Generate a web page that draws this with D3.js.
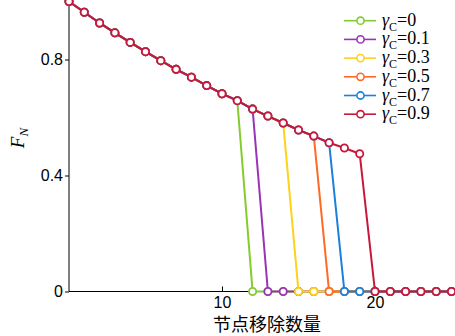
<!DOCTYPE html>
<html>
<head>
  <meta charset="utf-8">
  <script src="https://d3js.org/d3.v7.min.js"></script>
  <style>
    body { margin: 0; background: #fff; }
    svg { display: block; font-family: "Liberation Serif", "DejaVu Serif", serif; }
    .tick text { font-size: 16px; fill: #000; }
  </style>
</head>
<body>
  <svg id="chart" width="455" height="336"></svg>

  <script>
    // removed-node count on x, F_N on y
    const steps = d3.range(0, 26);
    const xTicks = [10, 20];
    const yTicks = [0, 0.4, 0.8];
    const gammaLabels = ["0", "0.1", "0.3", "0.5", "0.7", "0.9"];
    const colors = ["#84cc2e", "#9a34b5", "#ffd21a", "#ff6a26", "#1a80db", "#c8173d"];

    const fnG0  = [1, 0.963, 0.926, 0.892, 0.859, 0.827, 0.796, 0.766, 0.739, 0.710, 0.682, 0.658, 0, 0, 0, 0, 0, 0, 0, 0, 0, 0, 0, 0, 0, 0];
    const fnG01 = [1, 0.963, 0.926, 0.892, 0.859, 0.827, 0.796, 0.766, 0.739, 0.710, 0.682, 0.658, 0.629, 0, 0, 0, 0, 0, 0, 0, 0, 0, 0, 0, 0, 0];
    const fnG03 = [1, 0.963, 0.926, 0.892, 0.859, 0.827, 0.796, 0.766, 0.739, 0.710, 0.682, 0.658, 0.629, 0.605, 0.581, 0, 0, 0, 0, 0, 0, 0, 0, 0, 0, 0];
    const fnG05 = [1, 0.963, 0.926, 0.892, 0.859, 0.827, 0.796, 0.766, 0.739, 0.710, 0.682, 0.658, 0.629, 0.605, 0.581, 0.557, 0.536, 0, 0, 0, 0, 0, 0, 0, 0, 0];
    const fnG07 = [1, 0.963, 0.926, 0.892, 0.859, 0.827, 0.796, 0.766, 0.739, 0.710, 0.682, 0.658, 0.629, 0.605, 0.581, 0.557, 0.536, 0.513, 0, 0, 0, 0, 0, 0, 0, 0];
    const fnG09 = [1, 0.963, 0.926, 0.892, 0.859, 0.827, 0.796, 0.766, 0.739, 0.710, 0.682, 0.658, 0.629, 0.605, 0.581, 0.557, 0.536, 0.513, 0.495, 0.475, 0, 0, 0, 0, 0, 0];
    const allSeries = [fnG0, fnG01, fnG03, fnG05, fnG07, fnG09];

    const svg = d3.select("#chart");

    const x = d3.scaleLinear().domain([0, 25]).range([69, 451.5]);
    const y = d3.scaleLinear().domain([0, 1]).range([291.5, 1.5]);

    // axes
    svg.append("g")
      .attr("transform", `translate(0,${y(0)})`)
      .call(d3.axisBottom(x).tickValues(xTicks).tickSize(-5).tickPadding(5).tickFormat(d3.format("d")))
      .call(g => g.select(".domain").attr("d", `M${x(0)},0H455`));

    svg.append("g")
      .attr("transform", `translate(${x(0)},0)`)
      .call(d3.axisLeft(y).tickValues(yTicks).tickSize(4).tickPadding(2).tickFormat(d => d === 0 ? "0" : d3.format(".1f")(d)))
      .call(g => g.select(".domain").attr("d", `M0,0V${y(0)}`));

    svg.selectAll(".domain, .tick line").attr("stroke", "#000").attr("stroke-width", 1);

    // series
    const line = d3.line().x((d, i) => x(steps[i])).y(d => y(d));

    allSeries.forEach((vals, k) => {
      const g = svg.append("g");
      g.append("path")
        .datum(vals)
        .attr("d", line)
        .attr("fill", "none")
        .attr("stroke", colors[k])
        .attr("stroke-width", 2);
      g.selectAll("circle")
        .data(vals)
        .join("circle")
        .attr("cx", (d, i) => x(steps[i]))
        .attr("cy", d => y(d))
        .attr("r", 3.6)
        .attr("fill", "#fff")
        .attr("stroke", colors[k])
        .attr("stroke-width", 1.8);
    });

    // legend
    const legend = svg.append("g");
    gammaLabels.forEach((lab, k) => {
      const ly = 20.7 + k * 18.7;
      legend.append("line")
        .attr("x1", 344).attr("x2", 376).attr("y1", ly).attr("y2", ly)
        .attr("stroke", colors[k]).attr("stroke-width", 1.6);
      legend.append("circle")
        .attr("cx", 360.5).attr("cy", ly).attr("r", 3.6)
        .attr("fill", "#fff").attr("stroke", colors[k]).attr("stroke-width", 1.6);
      const t = legend.append("text")
        .attr("x", 382).attr("y", ly + 5)
        .attr("font-size", 18).attr("fill", "#000");
      t.append("tspan").attr("font-style", "italic").text("γ");
      t.append("tspan").attr("font-size", 12).attr("dy", 5).text("C");
      t.append("tspan").attr("dy", -5).text("=" + lab);
    });

    // axis titles
    svg.append("text")
      .attr("x", 267).attr("y", 331)
      .attr("text-anchor", "middle")
      .attr("font-family", "'Noto Sans CJK SC', sans-serif")
      .attr("font-size", 18)
      .text("节点移除数量");

    const yt = svg.append("text")
      .attr("transform", "translate(24,138) rotate(-90)")
      .attr("text-anchor", "middle")
      .attr("font-size", 19)
      .attr("font-style", "italic");
    yt.append("tspan").text("F");
    yt.append("tspan").attr("font-size", 13).attr("dy", 4).text("N");
  </script>
</body>
</html>
